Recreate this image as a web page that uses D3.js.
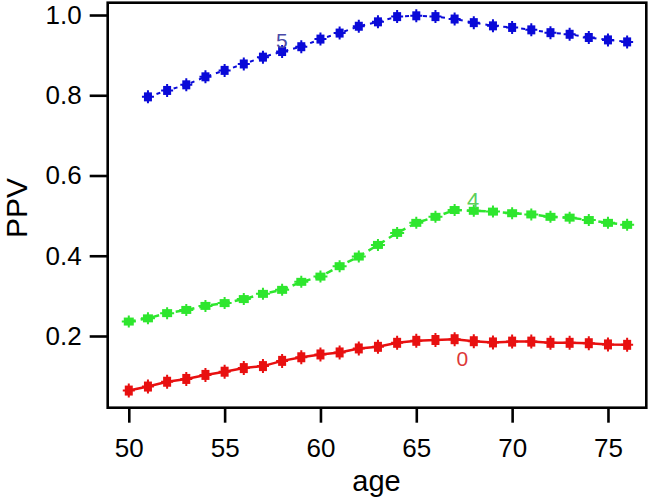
<!DOCTYPE html>
<html>
<head>
<meta charset="utf-8">
<script src="https://cdn.jsdelivr.net/npm/d3@7"></script>
<style>
  html, body { margin: 0; padding: 0; background: #ffffff; }
  svg { display: block; }
  text { font-family: "Liberation Sans", Arial, sans-serif; }
</style>
</head>
<body>
<svg id="chart" width="649" height="500"></svg>
<script>
// ---- data ----
const agesBlue  = [51,52,53,54,55,56,57,58,59,60,61,62,63,64,65,66,67,68,69,70,71,72,73,74,75,76];
const ppvBlue   = [0.796,0.812,0.826,0.846,0.862,0.878,0.895,0.909,0.921,0.940,0.955,0.972,0.983,0.996,0.998,0.996,0.990,0.981,0.973,0.969,0.963,0.956,0.952,0.944,0.938,0.933];
const agesGreen = [50,51,52,53,54,55,56,57,58,59,60,61,62,63,64,65,66,67,68,69,70,71,72,73,74,75,76];
const ppvGreen  = [0.236,0.244,0.257,0.265,0.275,0.282,0.292,0.305,0.315,0.335,0.348,0.374,0.398,0.427,0.457,0.482,0.497,0.514,0.512,0.510,0.506,0.503,0.497,0.495,0.489,0.482,0.477];
const agesRed   = [50,51,52,53,54,55,56,57,58,59,60,61,62,63,64,65,66,67,68,69,70,71,72,73,74,75,76];
const ppvRed    = [0.064,0.074,0.086,0.093,0.103,0.111,0.120,0.125,0.138,0.147,0.154,0.159,0.169,0.173,0.183,0.188,0.190,0.192,0.187,0.184,0.186,0.186,0.183,0.183,0.182,0.179,0.178];
const seriesNames = ["5","4","0"];
const xTicks = [50,55,60,65,70,75];
const yTicks = [0.2,0.4,0.6,0.8,1.0];
const xTitle = "age";
const yTitle = "PPV";

// ---- layout ----
const svg = d3.select("#chart");
const L = 107.7, R = 646.3, T = 2.7, B = 407.7;
const x = d3.scaleLinear().domain([48.9, 77]).range([L, R]);
const y = d3.scaleLinear().domain([0.0213, 1.0307]).range([B, T]);

const series = [
  {name: seriesNames[0], ages: agesBlue,  vals: ppvBlue,  color: "#0a0ad8", dash: "4,5",  width: 2,   mw: 8, mh: 9,
   label: {age: 57.98, val: 0.919, color: "#4a4aa8", font: "Liberation Sans", size: 21}},
  {name: seriesNames[1], ages: agesGreen, vals: ppvGreen, color: "#2ee62e", dash: "7,5",  width: 2.5, mw: 10, mh: 8,
   label: {age: 67.96, val: 0.519, color: "#5ccf5c", font: "Liberation Serif", size: 22}},
  {name: seriesNames[2], ages: agesRed,   vals: ppvRed,   color: "#e81010", dash: null,   width: 2.5, mw: 8, mh: 10,
   label: {age: 67.4, val: 0.125, color: "#dd3838", font: "Liberation Sans", size: 21}}
];

const line = d3.line().x(d => x(d[0])).y(d => y(d[1]));

series.forEach(s => {
  const pts = s.ages.map((a, i) => [a, s.vals[i]]);
  const g = svg.append("g");
  const p = g.append("path").datum(pts)
    .attr("d", line)
    .attr("fill", "none")
    .attr("stroke", s.color)
    .attr("stroke-width", s.width);
  if (s.dash) p.attr("stroke-dasharray", s.dash);
  // markers
  g.selectAll("rect.m").data(pts).enter().append("rect")
    .attr("x", d => x(d[0]) - s.mw / 2)
    .attr("y", d => y(d[1]) - s.mh / 2)
    .attr("width", s.mw)
    .attr("height", s.mh)
    .attr("fill", s.color);
  g.selectAll("path.c").data(pts).enter().append("path")
    .attr("d", d => {
      const cx = x(d[0]), cy = y(d[1]);
      return `M${cx - s.mw/2 - 2},${cy}H${cx + s.mw/2 + 2}M${cx},${cy - s.mh/2 - 2}V${cy + s.mh/2 + 2}`;
    })
    .attr("stroke", s.color)
    .attr("stroke-width", 2)
    .attr("fill", "none");
  svg.append("text")
    .attr("x", x(s.label.age))
    .attr("y", y(s.label.val))
    .attr("text-anchor", "middle")
    .attr("font-family", s.label.font)
    .attr("font-size", s.label.size)
    .attr("fill", s.label.color)
    .text(s.name);
});

// ---- axes ----
const yAxis = d3.axisLeft(y).tickValues(yTicks).tickFormat(d3.format(".1f"))
  .tickSizeInner(18).tickSizeOuter(0).tickPadding(8);
const gy = svg.append("g").attr("transform", `translate(${L},0)`).call(yAxis);
gy.select(".domain").remove();
gy.selectAll(".tick line").attr("stroke", "#000").attr("stroke-width", 2.6);
gy.selectAll(".tick text").attr("font-size", 26).attr("fill", "#000")
  .attr("font-family", "Liberation Sans, Arial, sans-serif");

const xAxis = d3.axisBottom(x).tickValues(xTicks).tickFormat(d3.format("d"))
  .tickSizeInner(15).tickSizeOuter(0).tickPadding(16);
const gx = svg.append("g").attr("transform", `translate(0,${B})`).call(xAxis);
gx.select(".domain").remove();
gx.selectAll(".tick line").attr("stroke", "#000").attr("stroke-width", 2.6);
gx.selectAll(".tick text").attr("font-size", 26).attr("fill", "#000")
  .attr("font-family", "Liberation Sans, Arial, sans-serif");

// plot frame
svg.append("rect")
  .attr("x", L).attr("y", T)
  .attr("width", R - L).attr("height", B - T)
  .attr("fill", "none").attr("stroke", "#000").attr("stroke-width", 2.6);

// titles
svg.append("text")
  .attr("x", (L + R) / 2 - 0.5)
  .attr("y", 491)
  .attr("text-anchor", "middle")
  .attr("font-size", 29)
  .attr("fill", "#000")
  .text(xTitle);
svg.append("text")
  .attr("transform", `translate(27,208) rotate(-90)`)
  .attr("text-anchor", "middle")
  .attr("font-size", 30)
  .attr("fill", "#000")
  .text(yTitle);
</script>
</body>
</html>
